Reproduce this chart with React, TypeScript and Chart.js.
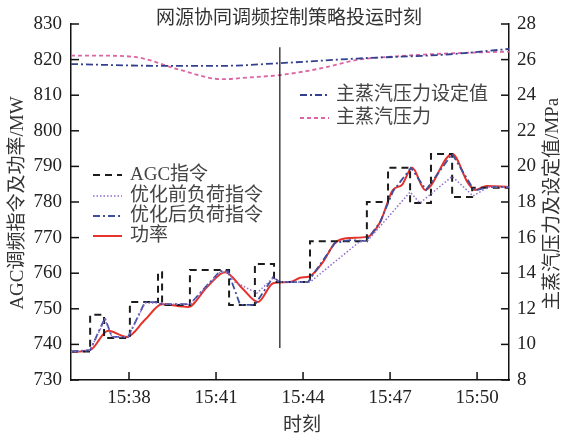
import React, { useEffect, useRef } from 'react';
import { Chart, registerables } from 'chart.js';

Chart.register(...registerables);

// time axis in minutes after 15:00
const xTickValues = [38, 41, 44, 47, 50];
const xTickLabels = ['15:38', '15:41', '15:44', '15:47', '15:50'];
const switchTime = 43.2;

// AGC command (step changes: time, new level)
const agcT = [36.0, 36.66, 37.14, 38.03, 39.0, 39.14, 40.1, 41.45, 42.34, 43.0, 44.24, 46.2, 46.93, 47.69, 48.41, 49.14, 49.83, 51.1];
const agcMW = [738.0, 748.3, 741.8, 751.9, 760.3, 751.1, 760.9, 751.1, 762.6, 757.5, 769.0, 780.0, 789.6, 779.7, 793.5, 781.4, 784.0, 784.0];

// load command before optimisation
const preT = [36.0, 36.66, 37.17, 37.41, 37.97, 38.55, 38.97, 39.14, 40.1, 41.14, 41.41, 41.66, 42.41, 42.97, 43.2, 44.24, 45.97, 46.21, 47.69, 48.03, 49.14, 49.86, 50.4, 51.1];
const preMW = [737.9, 738.4, 747.0, 742.1, 742.1, 751.6, 751.6, 751.3, 751.3, 760.3, 760.3, 757.5, 754.4, 758.7, 757.5, 757.5, 769.0, 769.0, 782.8, 779.7, 787.2, 781.7, 784.2, 784.2];

// load command after optimisation
const postT = [36.0, 36.66, 37.17, 37.41, 37.97, 38.55, 38.97, 39.14, 40.1, 41.14, 41.41, 41.83, 42.34, 42.97, 43.2, 44.17, 45.1, 45.62, 46.17, 46.66, 47.1, 47.72, 48.24, 49.14, 49.9, 50.4, 51.1];
const postMW = [737.9, 738.4, 747.4, 742.1, 742.1, 751.9, 751.9, 751.3, 751.3, 760.6, 760.6, 751.1, 751.1, 758.9, 757.5, 757.5, 768.5, 769.3, 769.0, 774.4, 783.0, 789.6, 783.4, 793.5, 783.2, 784.2, 784.2];

// unit power
const powerT = [36.0, 36.66, 37.28, 37.93, 38.55, 39.14, 40.03, 40.69, 41.31, 41.9, 42.45, 42.97, 43.55, 43.9, 44.24, 44.69, 45.1, 45.62, 46.21, 46.66, 47.1, 47.41, 47.76, 48.21, 49.14, 49.69, 49.93, 50.34, 51.1];
const powerMW = [737.9, 738.4, 743.8, 742.1, 746.9, 751.3, 750.5, 756.1, 760.3, 755.8, 751.9, 757.2, 757.5, 758.7, 759.2, 763.2, 768.5, 769.9, 770.2, 774.4, 783.4, 784.8, 789.6, 783.4, 793.5, 785.3, 783.4, 784.5, 784.2];

// main steam pressure and its set value (MPa)
const pressT = [36.0, 37.0, 38.2, 39.7, 41.2, 42.17, 43.2, 44.59, 45.86, 47.34, 49.07, 51.1];
const pressMPa = [26.22, 26.22, 26.15, 25.45, 24.9, 25.0, 25.13, 25.5, 25.98, 26.2, 26.35, 26.45];
const setT = [36.0, 39.1, 41.2, 43.2, 45.86, 49.07, 51.1];
const setMPa = [25.75, 25.65, 25.65, 25.8, 26.06, 26.3, 26.6];

const FONT = "'Liberation Serif', 'Noto Sans CJK SC', serif";

const C_AGC = '#1c1c1c';
const C_PRE = '#8e6cc9';
const C_POST = '#3d4d9f';
const C_POWER = '#e5322a';
const C_PRESS = '#dc65a3';
const C_SET = '#334090';

const pts = (t: number[], v: number[]) => t.map((x, i) => ({ x, y: v[i] }));

const legend1 = [
  { label: 'AGC指令', color: C_AGC, dash: [7, 5], width: 2 },
  { label: '优化前负荷指令', color: C_PRE, dash: [1.5, 2], width: 1.5 },
  { label: '优化后负荷指令', color: C_POST, dash: [7, 3, 2, 3], width: 1.8 },
  { label: '功率', color: C_POWER, dash: [], width: 2 },
];
const legend2 = [
  { label: '主蒸汽压力设定值', color: C_SET, dash: [7, 3, 2, 3], width: 1.8 },
  { label: '主蒸汽压力', color: C_PRESS, dash: [4, 3], width: 1.8 },
];

const overlay = {
  id: 'overlay',
  afterDatasetsDraw(chart: any) {
    const { ctx, chartArea, scales } = chart;
    const xs = scales.x, yl = scales.y, yr = scales.y1;
    const seg = (x1: number, y1: number, x2: number, y2: number) => {
      ctx.beginPath();
      ctx.moveTo(x1, y1);
      ctx.lineTo(x2, y2);
      ctx.stroke();
    };
    ctx.save();
    ctx.strokeStyle = '#111';
    ctx.lineWidth = 1.5;
    ctx.setLineDash([]);
    const tl = 8;
    xTickValues.forEach((v) => {
      const px = xs.getPixelForValue(v);
      seg(px, chartArea.bottom, px, chartArea.bottom - tl);
    });
    yl.ticks.forEach((t: any) => {
      const py = yl.getPixelForValue(t.value);
      seg(chartArea.left, py, chartArea.left + tl, py);
    });
    yr.ticks.forEach((t: any) => {
      const py = yr.getPixelForValue(t.value);
      seg(chartArea.right, py, chartArea.right - tl, py);
    });
    // switch-over marker
    ctx.lineWidth = 1.2;
    const vx = xs.getPixelForValue(switchTime);
    seg(vx, yl.getPixelForValue(823.5), vx, yl.getPixelForValue(739));

    // texts
    ctx.font = `19px ${FONT}`;
    ctx.fillStyle = '#333';
    ctx.textBaseline = 'middle';
    ctx.textAlign = 'center';
    ctx.fillText('网源协同调频控制策略投运时刻', 289, 19);
    ctx.fillText('时刻', 302, 426);
    ctx.save();
    ctx.translate(18, 203);
    ctx.rotate(-Math.PI / 2);
    ctx.fillText('AGC调频指令及功率/MW', 0, 0);
    ctx.restore();
    ctx.save();
    ctx.translate(553, 204);
    ctx.rotate(-Math.PI / 2);
    ctx.fillText('主蒸汽压力及设定值/MPa', 0, 0);
    ctx.restore();

    const drawLegend = (items: any[], x0: number, x1: number, tx: number, ys: number[]) => {
      items.forEach((it, i) => {
        ctx.strokeStyle = it.color;
        ctx.lineWidth = it.width;
        ctx.setLineDash(it.dash);
        seg(x0, ys[i], x1, ys[i]);
        ctx.setLineDash([]);
        ctx.fillStyle = '#444';
        ctx.textAlign = 'left';
        ctx.fillText(it.label, tx, ys[i]);
      });
    };
    drawLegend(legend1, 93, 122, 130, [175, 196, 216, 236]);
    drawLegend(legend2, 300, 329, 336, [95, 118]);
    ctx.restore();
  },
};

export default function App() {
  const ref = useRef<HTMLCanvasElement>(null);
  useEffect(() => {
    if (!ref.current) return;
    const chart = new Chart(ref.current, {
      type: 'line',
      data: {
        datasets: [
          {
            label: '主蒸汽压力设定值', data: pts(setT, setMPa), yAxisID: 'y1',
            borderColor: C_SET, borderWidth: 1.8, borderDash: [7, 3, 2, 3], pointRadius: 0,
            cubicInterpolationMode: 'monotone', fill: false,
          },
          {
            label: '主蒸汽压力', data: pts(pressT, pressMPa), yAxisID: 'y1',
            borderColor: C_PRESS, borderWidth: 1.8, borderDash: [4, 3], pointRadius: 0,
            cubicInterpolationMode: 'monotone', fill: false,
          },
          {
            label: '优化前负荷指令', data: pts(preT, preMW), yAxisID: 'y',
            borderColor: C_PRE, borderWidth: 1.5, borderDash: [1.5, 2], pointRadius: 0, tension: 0, fill: false,
          },
          {
            label: '优化后负荷指令', data: pts(postT, postMW), yAxisID: 'y',
            borderColor: C_POST, borderWidth: 1.8, borderDash: [7, 3, 2, 3], pointRadius: 0, tension: 0, fill: false,
          },
          {
            label: 'AGC指令', data: pts(agcT, agcMW), yAxisID: 'y', stepped: 'before',
            borderColor: C_AGC, borderWidth: 2, borderDash: [7, 5], pointRadius: 0, fill: false,
          },
          {
            label: '功率', data: pts(powerT, powerMW), yAxisID: 'y',
            borderColor: C_POWER, borderWidth: 2, pointRadius: 0,
            cubicInterpolationMode: 'monotone', fill: false,
          },
        ],
      },
      options: {
        responsive: false,
        animation: false,
        layout: { padding: { top: 24, left: 0, right: 0, bottom: 0 } },
        plugins: { legend: { display: false }, tooltip: { enabled: false }, title: { display: false } },
        scales: {
          x: {
            type: 'linear', min: 36, max: 51.1,
            grid: { display: false, drawTicks: false },
            border: { display: true, color: '#111', width: 1.5 },
            afterBuildTicks: (s: any) => { s.ticks = xTickValues.map((v) => ({ value: v })); },
            afterFit: (s: any) => { s.height = 59; },
            ticks: {
              padding: 7, color: '#222', font: { family: FONT, size: 19 }, maxRotation: 0, autoSkip: false,
              callback: (v: any) => { const i = xTickValues.indexOf(Number(v)); return i >= 0 ? xTickLabels[i] : ''; },
            },
          },
          y: {
            type: 'linear', position: 'left', min: 730, max: 830,
            grid: { display: false, drawTicks: false },
            border: { display: true, color: '#111', width: 1.5 },
            afterFit: (s: any) => { s.width = 71; },
            ticks: { stepSize: 10, padding: 9, color: '#222', font: { family: FONT, size: 19 } },
          },
          y1: {
            type: 'linear', position: 'right', min: 8, max: 28,
            grid: { display: false, drawTicks: false },
            border: { display: true, color: '#111', width: 1.5 },
            afterFit: (s: any) => { s.width = 54; },
            ticks: { stepSize: 2, padding: 8, color: '#222', font: { family: FONT, size: 19 } },
          },
        },
      },
      plugins: [overlay],
    } as any);
    return () => chart.destroy();
  }, []);
  return (
    <div style={{ position: 'absolute', left: 0, top: 0, width: 563, height: 439, background: '#fff' }}>
      <canvas ref={ref} width={563} height={439} style={{ width: 563, height: 439, display: 'block' }} />
    </div>
  );
}
